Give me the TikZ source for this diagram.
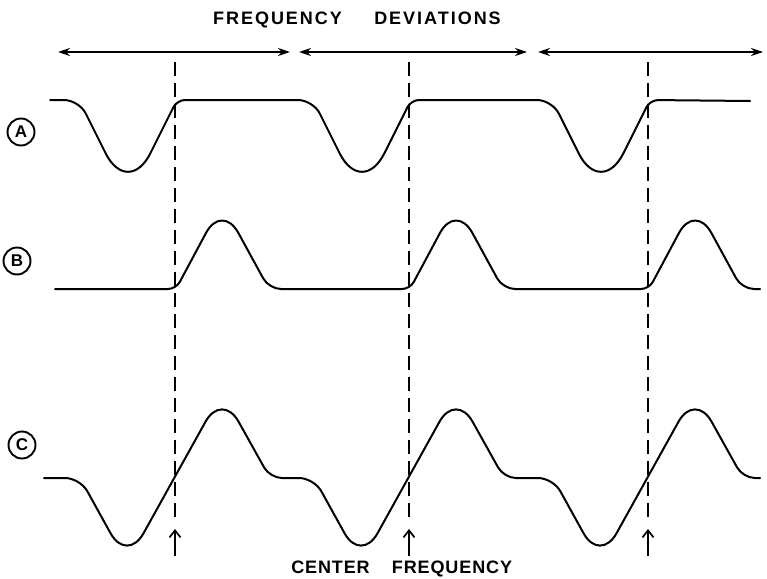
\documentclass[tikz,border=0pt]{standalone}
\usepackage{fontspec}
\setmainfont{Liberation Sans}
\newfontfamily\topfont[LetterSpace=11]{Liberation Sans}
\newfontfamily\botfont[LetterSpace=5]{Liberation Sans}
\usetikzlibrary{arrows.meta}
\begin{document}
\begin{tikzpicture}[x=1pt,y=-1pt,
  wave/.style={line width=2pt, line join=round, line cap=round},
  guide/.style={line width=1.8pt, dash pattern=on 14pt off 7pt},
  span/.style={line width=1.5pt, {Stealth[length=12pt,width=8pt,inset=4pt]}-{Stealth[length=12pt,width=8pt,inset=4pt]}},
  marker/.style={line width=1.7pt, -{Straight Barb[length=7pt,width=11pt]}},
  circ/.style={circle, draw, line width=1.9pt, minimum size=27pt, inner sep=0pt, font=\bfseries\fontsize{17}{17}\selectfont},
  toptext/.style={anchor=base, inner sep=0pt, font=\topfont\bfseries\fontsize{18}{18}\selectfont},
  bottext/.style={anchor=base, inner sep=0pt, font=\botfont\bfseries\fontsize{18}{18}\selectfont}]
\useasboundingbox (0,0) rectangle (767,578);

% title
\node[toptext] (t1) at (277.5,25) {FREQUENCY};
\node[toptext] (t2) at (437.5,25) {DEVIATIONS};

% span arrows
\coordinate (s1a) at (58,52);  \coordinate (s1b) at (290,52);
\coordinate (s2a) at (299,52); \coordinate (s2b) at (527,52);
\coordinate (s3a) at (538,52); \coordinate (s3b) at (763,52);
\draw[span] (s1a) -- (s1b);
\draw[span] (s2a) -- (s2b);
\draw[span] (s3a) -- (s3b);

% guides and center markers
\foreach \d [count=\i] in {175,409,648} {
  \coordinate (gt\i) at (\d,62);
  \coordinate (gb\i) at (\d,523);
  \draw[guide] (gt\i) -- (gb\i);
  \coordinate (at\i) at (\d,529);
  \coordinate (ab\i) at (\d,556);
  \draw[marker] (ab\i) -- (at\i);
}

% trace A
\draw[wave] (50,100)
  \foreach \d in {175,409,648} {
    [rounded corners=15pt] -- (\d-96,100) [rounded corners=50pt] -- (\d-47,198) [rounded corners=8pt] -- (\d+2,100)
  } [sharp corners] -- (750,101);

% trace B
\draw[wave] (55,289)
  \foreach \d in {175,409,648} {
    [rounded corners=8pt] -- (\d+1,289) [rounded corners=34pt] -- (\d+47,203) [rounded corners=12pt] -- (\d+94,289)
  } [sharp corners] -- (760,289);

% trace C
\draw[wave] (44,478)
  \foreach \d in {175,409,648} {
    [rounded corners=15pt] -- (\d-95,478) [rounded corners=34pt] -- (\d-48,563) [rounded corners=34pt] -- (\d+47,392) [rounded corners=12pt] -- (\d+95,478)
  } [sharp corners] -- (760,478);

% labels
\node[circ] (la) at (21,132) {A};
\node[circ] (lb) at (17,261) {B};
\node[circ] (lc) at (22,445) {C};

% bottom text
\node[bottext] (b1) at (330.5,573) {CENTER};
\node[bottext] (b2) at (452,573) {FREQUENCY};
\end{tikzpicture}
\end{document}
